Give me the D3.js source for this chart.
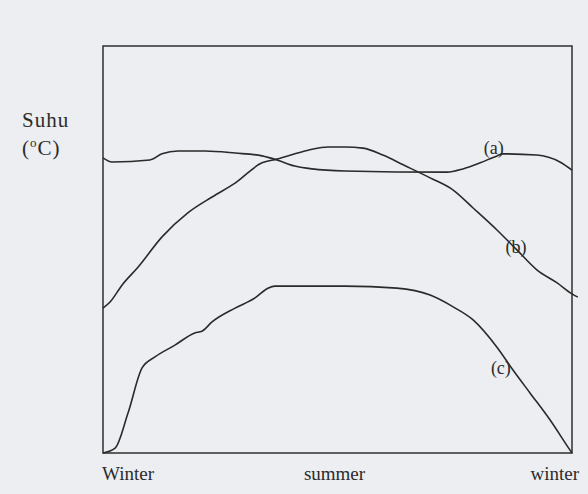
<!DOCTYPE html>
<html>
<head>
<meta charset="utf-8">
<script src="https://cdn.jsdelivr.net/npm/d3@7"></script>
<style>
  html, body { margin: 0; padding: 0; background: #eceef1; }
  svg { display: block; }
  text { font-family: "Liberation Serif", "DejaVu Serif", serif; fill: #2b2b2b; }
</style>
</head>
<body>
<svg id="chart"></svg>
<script>
// months from winter (0) through summer (6) to winter (12), values are relative temperature (0-100)
const curveA = [
  [0, 72.5], [0.23, 71.5], [1.2, 72], [1.51, 73.5], [1.92, 74.2], [2.61, 74.2],
  [3.38, 73.7], [4.07, 73], [4.45, 72], [4.91, 70.5], [5.35, 69.8], [6.19, 69.3],
  [8.8, 69], [9.21, 69.8], [9.65, 71.3], [10.08, 73], [10.23, 73.5], [11.1, 73.2],
  [11.69, 71.5], [12, 69.5]
]
const curveB = [
  [0, 35.6], [0.18, 37.1], [0.49, 41.3], [0.9, 45.7], [1.51, 53.1], [2.17, 59],
  [2.79, 62.9], [3.38, 66.3], [4.07, 71.3], [4.45, 72.2], [5.25, 74.4], [5.76, 75.2],
  [6.19, 75.2], [6.65, 74.9], [7.16, 73.2], [7.68, 70.8], [8.37, 67.6], [8.96, 64.6],
  [9.47, 60.2], [10.08, 54.8], [10.59, 49.9], [11.1, 45], [11.62, 41.8], [12, 39.1],
  [12.15, 38.3]
]
const curveC = [
  [0, 0], [0.31, 1.2], [0.64, 9.8], [1.0, 20.9], [1.33, 23.6], [1.84, 26.5],
  [2.35, 29.5], [2.53, 29.9], [2.79, 32.2], [3.38, 35.6], [3.89, 38.1], [4.22, 40.5],
  [4.4, 41], [6.19, 41], [7.52, 40.5], [8.37, 38.8], [8.96, 35.9], [9.47, 32.7],
  [10.08, 26], [10.49, 20.4], [10.93, 14.7], [11.44, 8.1], [11.95, 0.7], [12, 0]
]
const seasonTicks = [0, 6, 12]
const seasonLabels = ['Winter', 'summer', 'winter']
const curveLabels = [
  { name: '(a)', at: [10.0, 73.5] },
  { name: '(b)', at: [10.57, 49.1] },
  { name: '(c)', at: [10.18, 19.4] }
]

const width = 588
const height = 494

const svg = d3.select('svg#chart')
  .attr('width', width)
  .attr('height', height)

const x = d3.scaleLinear().domain([0, 12]).range([103, 572])
const y = d3.scaleLinear().domain([0, 100]).range([453, 46])

// frame
const [x0, x1] = x.range()
const [yb, yt] = y.range()
svg.append('rect')
  .attr('x', x0)
  .attr('y', yt)
  .attr('width', x1 - x0)
  .attr('height', yb - yt)
  .attr('fill', 'none')
  .attr('stroke', '#3a3a3a')
  .attr('stroke-width', 1.6)

const line = d3.line()
  .x(d => x(d[0]))
  .y(d => y(d[1]))
  .curve(d3.curveMonotoneX)

svg.append('g')
  .selectAll('path')
  .data([curveA, curveB, curveC])
  .join('path')
  .attr('d', line)
  .attr('fill', 'none')
  .attr('stroke', '#2a2a2a')
  .attr('stroke-width', 1.6)

// curve labels
svg.append('g')
  .selectAll('text')
  .data(curveLabels)
  .join('text')
  .attr('x', d => x(d.at[0]))
  .attr('y', d => y(d.at[1]))
  .attr('text-anchor', 'middle')
  .style('font-size', '18px')
  .text(d => d.name)

// x labels
svg.append('g')
  .selectAll('text')
  .data(seasonTicks)
  .join('text')
  .attr('x', (d, i) => i === 0 ? x(d) - 1 : i === 2 ? x(d) + 7 : x(d) - 3)
  .attr('y', 480)
  .attr('text-anchor', (d, i) => i === 0 ? 'start' : i === 2 ? 'end' : 'middle')
  .style('font-size', '19px')
  .text((d, i) => seasonLabels[i])

// y label
svg.append('text')
  .attr('x', 22)
  .attr('y', 127)
  .style('font-size', '21px')
  .style('letter-spacing', '1px')
  .text('Suhu')
const unit = svg.append('text')
  .attr('x', 22)
  .attr('y', 155)
  .style('font-size', '21px')
  .style('letter-spacing', '1px')
unit.append('tspan').text('(')
unit.append('tspan').attr('dy', -8).style('font-size', '13px').text('o')
unit.append('tspan').attr('dy', 8).text('C)')
</script>
</body>
</html>
